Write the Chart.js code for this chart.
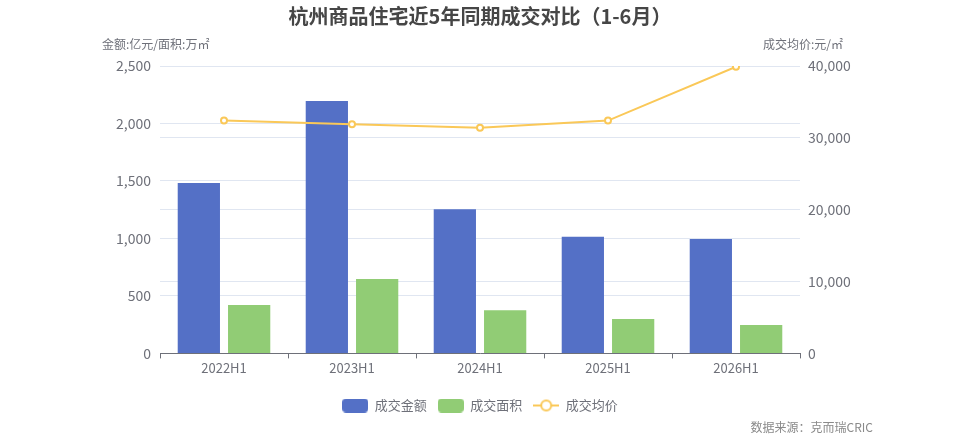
<!DOCTYPE html>
<html>
<head>
<meta charset="utf-8">
<script src="https://cdn.jsdelivr.net/npm/chart.js@4.4.1/dist/chart.umd.min.js"></script>
<style>
  html, body { margin: 0; padding: 0; background: #fff; }
  #wrap { width: 960px; height: 440px; position: relative; }
</style>
</head>
<body>
<div id="wrap"><canvas id="chart" width="960" height="440"></canvas></div>
<script>
var categories = ['2022H1', '2023H1', '2024H1', '2025H1', '2026H1'];
var amountValues = [1483, 2195, 1255, 1015, 995];   // 成交金额 亿元
var areaValues = [420, 647, 376, 300, 247];          // 成交面积 万㎡
var priceValues = [32400, 31900, 31400, 32400, 39900]; // 成交均价 元/㎡
var leftTicks = [0, 500, 1000, 1500, 2000, 2500];
var rightTicks = [0, 10000, 20000, 30000, 40000];

var FONT = "'Noto Sans CJK SC', 'Noto Sans', sans-serif";
var axisColor = '#6e7079';
var gridColor = '#e0e6f1';
var colors = ['#5470c6', '#91cc75', '#fac858'];

// legend icons drawn on small canvases
function boxIcon(color) {
  var c = document.createElement('canvas');
  c.width = 26; c.height = 14;
  var g = c.getContext('2d');
  g.fillStyle = color;
  g.beginPath();
  g.roundRect(0, 0, 26, 14, 4);
  g.fill();
  return c;
}
function lineIcon(color) {
  var c = document.createElement('canvas');
  c.width = 26; c.height = 14;
  var g = c.getContext('2d');
  g.strokeStyle = color;
  g.lineWidth = 2;
  g.beginPath();
  g.moveTo(0, 7); g.lineTo(26, 7);
  g.stroke();
  g.fillStyle = '#fff';
  g.beginPath();
  g.arc(13, 7, 5, 0, Math.PI * 2);
  g.fill();
  g.stroke();
  return c;
}
var icons = [boxIcon(colors[0]), boxIcon(colors[1]), lineIcon(colors[2])];

var textPlugin = {
  id: 'texts',
  afterDraw: function(chart) {
    var ctx = chart.ctx;
    ctx.save();
    ctx.fillStyle = axisColor;
    ctx.font = '12px ' + FONT;
    ctx.textBaseline = 'middle';
    ctx.textAlign = 'left';
    ctx.fillText('金额:亿元/面积:万㎡', 102, 44);
    ctx.textAlign = 'right';
    ctx.fillText('成交均价:元/㎡', 843, 44);
    ctx.fillStyle = '#8a8a8a';
    ctx.fillText('数据来源：克而瑞CRIC', 873, 427);
    ctx.restore();
  }
};

new Chart(document.getElementById('chart'), {
  type: 'bar',
  data: {
    labels: categories,
    datasets: [
      {
        label: '成交金额',
        data: amountValues,
        backgroundColor: colors[0],
        yAxisID: 'y',
        order: 2
      },
      {
        label: '成交面积',
        data: areaValues,
        backgroundColor: colors[1],
        yAxisID: 'y',
        order: 2
      },
      {
        type: 'line',
        label: '成交均价',
        data: priceValues,
        borderColor: colors[2],
        borderWidth: 2,
        pointRadius: 3,
        pointBorderWidth: 2,
        pointBackgroundColor: '#fff',
        pointBorderColor: colors[2],
        yAxisID: 'y1',
        order: 1
      }
    ]
  },
  options: {
    responsive: false,
    animation: false,
    devicePixelRatio: 1,
    layout: { padding: { left: 0, right: 0, top: 0, bottom: 18 } },
    datasets: {
      bar: { categoryPercentage: 0.786, barPercentage: 0.84 }
    },
    plugins: {
      tooltip: { enabled: false },
      title: {
        display: true,
        text: '杭州商品住宅近5年同期成交对比（1-6月）',
        color: '#464646',
        font: { family: FONT, size: 20, weight: 'bold' },
        padding: { top: 4, bottom: 38 }
      },
      legend: {
        position: 'bottom',
        labels: {
          usePointStyle: true,
          pointStyleWidth: 26,
          padding: 11,
          color: axisColor,
          font: { family: FONT, size: 13 },
          generateLabels: function(chart) {
            return chart.data.datasets.map(function(ds, i) {
              return {
                text: ds.label,
                pointStyle: icons[i],
                fontColor: axisColor,
                datasetIndex: i,
                hidden: false,
                lineWidth: 0
              };
            });
          }
        }
      }
    },
    scales: {
      x: {
        afterFit: function(scale) { scale.height += 10; },
        grid: {
          display: true,
          drawOnChartArea: false,
          drawTicks: true,
          tickLength: 5,
          offset: true,
          color: axisColor
        },
        border: { display: true, color: axisColor },
        ticks: {
          color: axisColor,
          font: { family: FONT, size: 13 },
          padding: 2
        }
      },
      y: {
        position: 'left',
        min: 0,
        max: 2500,
        afterFit: function(scale) { scale.width = 160; },
        afterBuildTicks: function(scale) {
          scale.ticks = leftTicks.map(function(v) { return { value: v }; });
        },
        grid: { color: gridColor, drawTicks: false },
        border: { display: false },
        ticks: {
          color: axisColor,
          font: { family: FONT, size: 14 },
          padding: 9,
          callback: function(v) { return v.toLocaleString('en-US'); }
        }
      },
      y1: {
        position: 'right',
        min: 0,
        max: 40000,
        afterFit: function(scale) { scale.width = 160; },
        afterBuildTicks: function(scale) {
          scale.ticks = rightTicks.map(function(v) { return { value: v }; });
        },
        grid: { color: gridColor, drawTicks: false, drawOnChartArea: true },
        border: { display: false },
        ticks: {
          color: axisColor,
          font: { family: FONT, size: 14 },
          padding: 8,
          callback: function(v) { return v.toLocaleString('en-US'); }
        }
      }
    }
  },
  plugins: [textPlugin]
});
</script>
</body>
</html>
